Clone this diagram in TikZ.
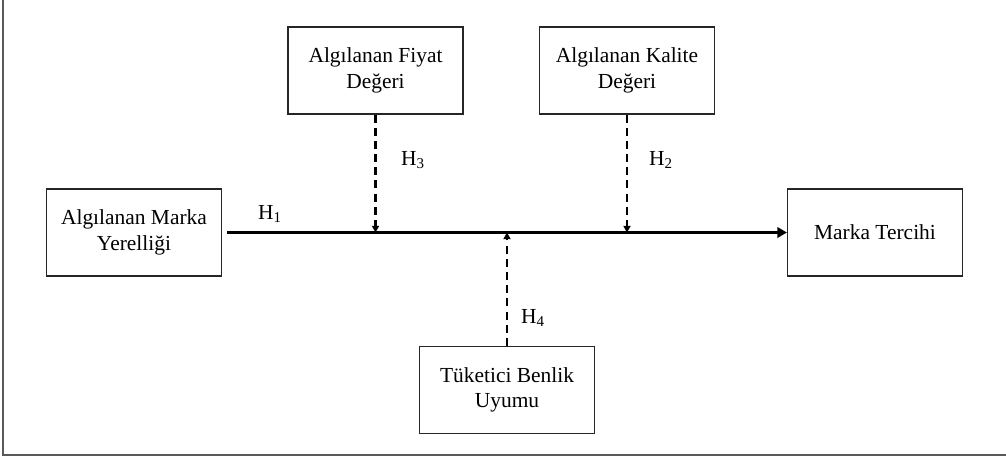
\documentclass[tikz,border=0pt]{standalone}
\usepackage{fontspec}
\setmainfont{Liberation Serif}
\usetikzlibrary{arrows.meta}
\begin{document}
\begin{tikzpicture}[x=0.02cm, y=-0.02cm,
  kutu/.style={draw=black!85, line width=0.7pt, minimum width=3.5cm, minimum height=1.74cm, inner sep=0pt, align=center, font=\fontsize{12.2}{14.5}\selectfont},
  hip/.style={inner sep=0pt, font=\fontsize{12.2}{14}\selectfont},
  etki/.style={line width=1.3pt, dash pattern=on 4.5pt off 3pt, -{Triangle[length=3.8pt, width=4pt]}}]
\useasboundingbox (0,0) rectangle (1006,460);
\draw[gray!70!black, line width=1pt] (3,0)--(3,455)--(1006,455);
% kutular
\node[kutu] (fiyat) at (375.5,70.5) {Algılanan Fiyat\\Değeri};
\node[kutu] (kalite) at (627,70.5) {Algılanan Kalite\\Değeri};
\node[kutu] (yerel) at (134,232.5) {Algılanan Marka\\Yerelliği};
\node[kutu] (tercih) at (875,232.5) {Marka Tercihi};
\node[kutu] (benlik) at (507,390) {Tüketici Benlik\\Uyumu};
% oklar
\draw[line width=1.8pt, -{Triangle[length=5.5pt, width=6pt]}, shorten <=3pt] (yerel.east)--(tercih.west);
\draw[etki] (fiyat.south)--(fiyat.south |- yerel.east);
\draw[etki] (kalite.south)--(kalite.south |- yerel.east);
\draw[etki] (benlik.north)--(benlik.north |- yerel.east);
\node[hip] (h1) at (270,214) {H\textsubscript{1}};
\node[hip] (h3) at (413,160) {H\textsubscript{3}};
\node[hip] (h2) at (661,160) {H\textsubscript{2}};
\node[hip] (h4) at (533,318) {H\textsubscript{4}};
\end{tikzpicture}
\end{document}
